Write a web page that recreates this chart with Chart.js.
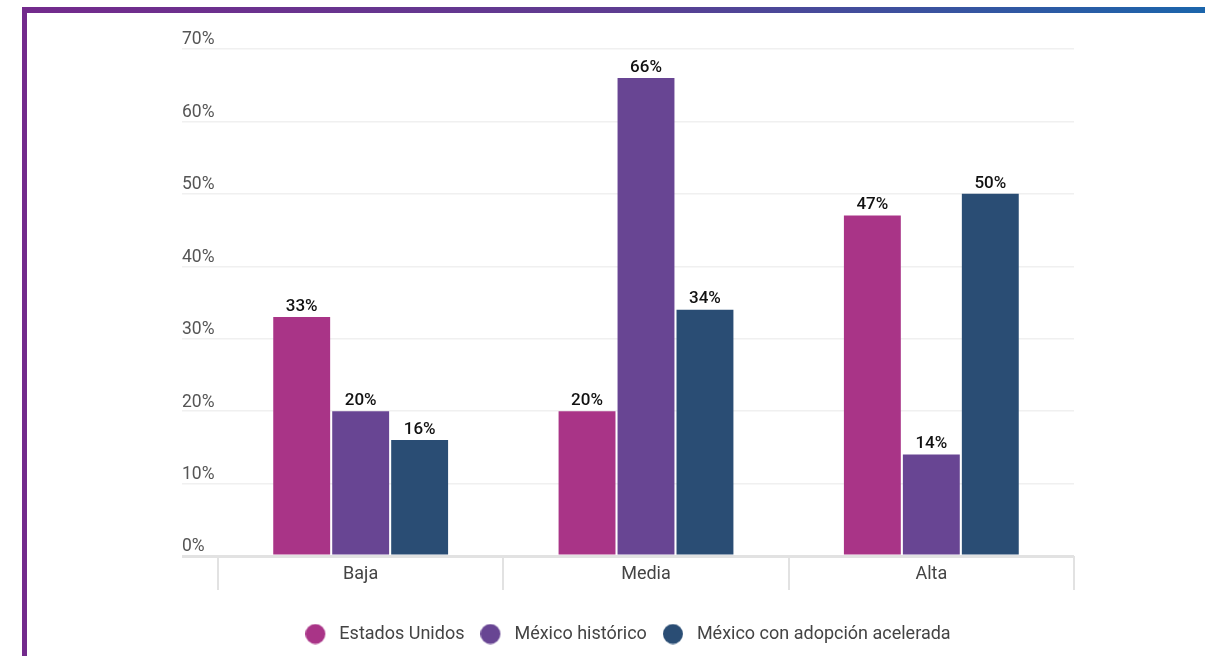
<!DOCTYPE html>
<html>
<head>
<meta charset="utf-8">
<script src="https://cdn.jsdelivr.net/npm/chart.js@4.4.1/dist/chart.umd.min.js"></script>
<style>
  html, body { margin: 0; padding: 0; background: #fff; }
  #wrap { position: relative; width: 1205px; height: 656px; overflow: hidden; }
  #frameTop { position: absolute; left: 22px; top: 7px; width: 1183px; height: 6px;
    background: linear-gradient(to right, #732a8c, #5e3c91 50%, #1b65ab); }
  #frameLeft { position: absolute; left: 22px; top: 7px; width: 5px; height: 660px; background: #732a8c; }
  #chartBox { position: absolute; left: 0; top: 0; width: 1205px; height: 656px; }
</style>
</head>
<body>
<div id="wrap">
  <div id="frameTop"></div>
  <div id="frameLeft"></div>
  <div id="chartBox"><canvas id="adopcionChart"></canvas></div>
</div>
<script>
document.addEventListener('DOMContentLoaded', function () {
    const ctx = document.getElementById('adopcionChart').getContext('2d');

    // Escenarios (eje X) y porcentajes por serie
    const escenarios = ['Baja', 'Media', 'Alta'];
    const estadosUnidos = [33, 20, 47];
    const mexicoHistorico = [20, 66, 14];
    const mexicoAcelerada = [16, 34, 50];
    const yTicks = [0, 10, 20, 30, 40, 50, 60, 70];

    const fontFamily = "Roboto, 'Noto Sans', sans-serif";

    // legend marker: a dot sitting at the left of a wider box, so the text gets more room
    function legendDot(color) {
        const cv = document.createElement('canvas');
        cv.width = 25;
        cv.height = 21;
        const c = cv.getContext('2d');
        c.fillStyle = color;
        c.beginPath();
        c.arc(10, 10.5, 10, 0, Math.PI * 2);
        c.fill();
        return cv;
    }

    // draws the % value above every bar
    const valueLabels = {
        id: 'valueLabels',
        afterDatasetsDraw(chart) {
            const c = chart.ctx;
            c.save();
            c.font = '500 17px ' + fontFamily;
            c.fillStyle = '#111';
            c.textAlign = 'center';
            c.textBaseline = 'bottom';
            chart.data.datasets.forEach((ds, i) => {
                chart.getDatasetMeta(i).data.forEach((bar, j) => {
                    c.fillText(ds.data[j] + '%', bar.x, bar.y - 2);
                });
            });
            c.restore();
        }
    };

    new Chart(ctx, {
        type: 'bar',
        data: {
            labels: escenarios,
            datasets: [
                { label: 'Estados Unidos', data: estadosUnidos, backgroundColor: '#a93487', pointStyle: legendDot('#a93487') },
                { label: 'México histórico', data: mexicoHistorico, backgroundColor: '#684593', pointStyle: legendDot('#684593') },
                { label: 'México con adopción acelerada', data: mexicoAcelerada, backgroundColor: '#2a4d74', pointStyle: legendDot('#2a4d74') }
            ]
        },
        options: {
            responsive: true,
            maintainAspectRatio: false,
            animation: false,
            datasets: {
                bar: { barPercentage: 0.965, categoryPercentage: 0.62 }
            },
            layout: {
                padding: { left: 182, right: 131, top: 49, bottom: 3 }
            },
            scales: {
                x: {
                    grid: {
                        offset: true,
                        drawOnChartArea: false,
                        drawTicks: true,
                        tickLength: 34,
                        color: '#e2e2e2',
                        lineWidth: 2
                    },
                    border: { display: false },
                    ticks: {
                        padding: -26,
                        color: '#444',
                        font: { size: 18, family: fontFamily }
                    },
                    afterFit: (scale) => { scale.height = 53; }
                },
                y: {
                    min: 0,
                    max: 70,
                    afterBuildTicks: (scale) => { scale.ticks = yTicks.map(v => ({ value: v })); },
                    afterFit: (scale) => { scale.width = 36; },
                    grid: {
                        drawTicks: true,
                        tickLength: 36,
                        color: (c) => c.tick && c.tick.value === 0 ? '#e2e2e2' : '#f0f0f0',
                        lineWidth: (c) => c.tick && c.tick.value === 0 ? 3 : 1.5
                    },
                    border: { display: false },
                    ticks: {
                        crossAlign: 'far',
                        labelOffset: -9,
                        padding: 0,
                        color: '#555',
                        font: { size: 17.5, family: fontFamily },
                        callback: (v) => v + '%'
                    }
                }
            },
            plugins: {
                legend: {
                    position: 'bottom',
                    labels: {
                        usePointStyle: true,
                        pointStyleWidth: 25,
                        boxHeight: 18,
                        padding: 16,
                        color: '#444',
                        font: { size: 18, family: fontFamily }
                    }
                },
                tooltip: { enabled: false }
            }
        },
        plugins: [valueLabels]
    });
});
</script>
</body>
</html>
